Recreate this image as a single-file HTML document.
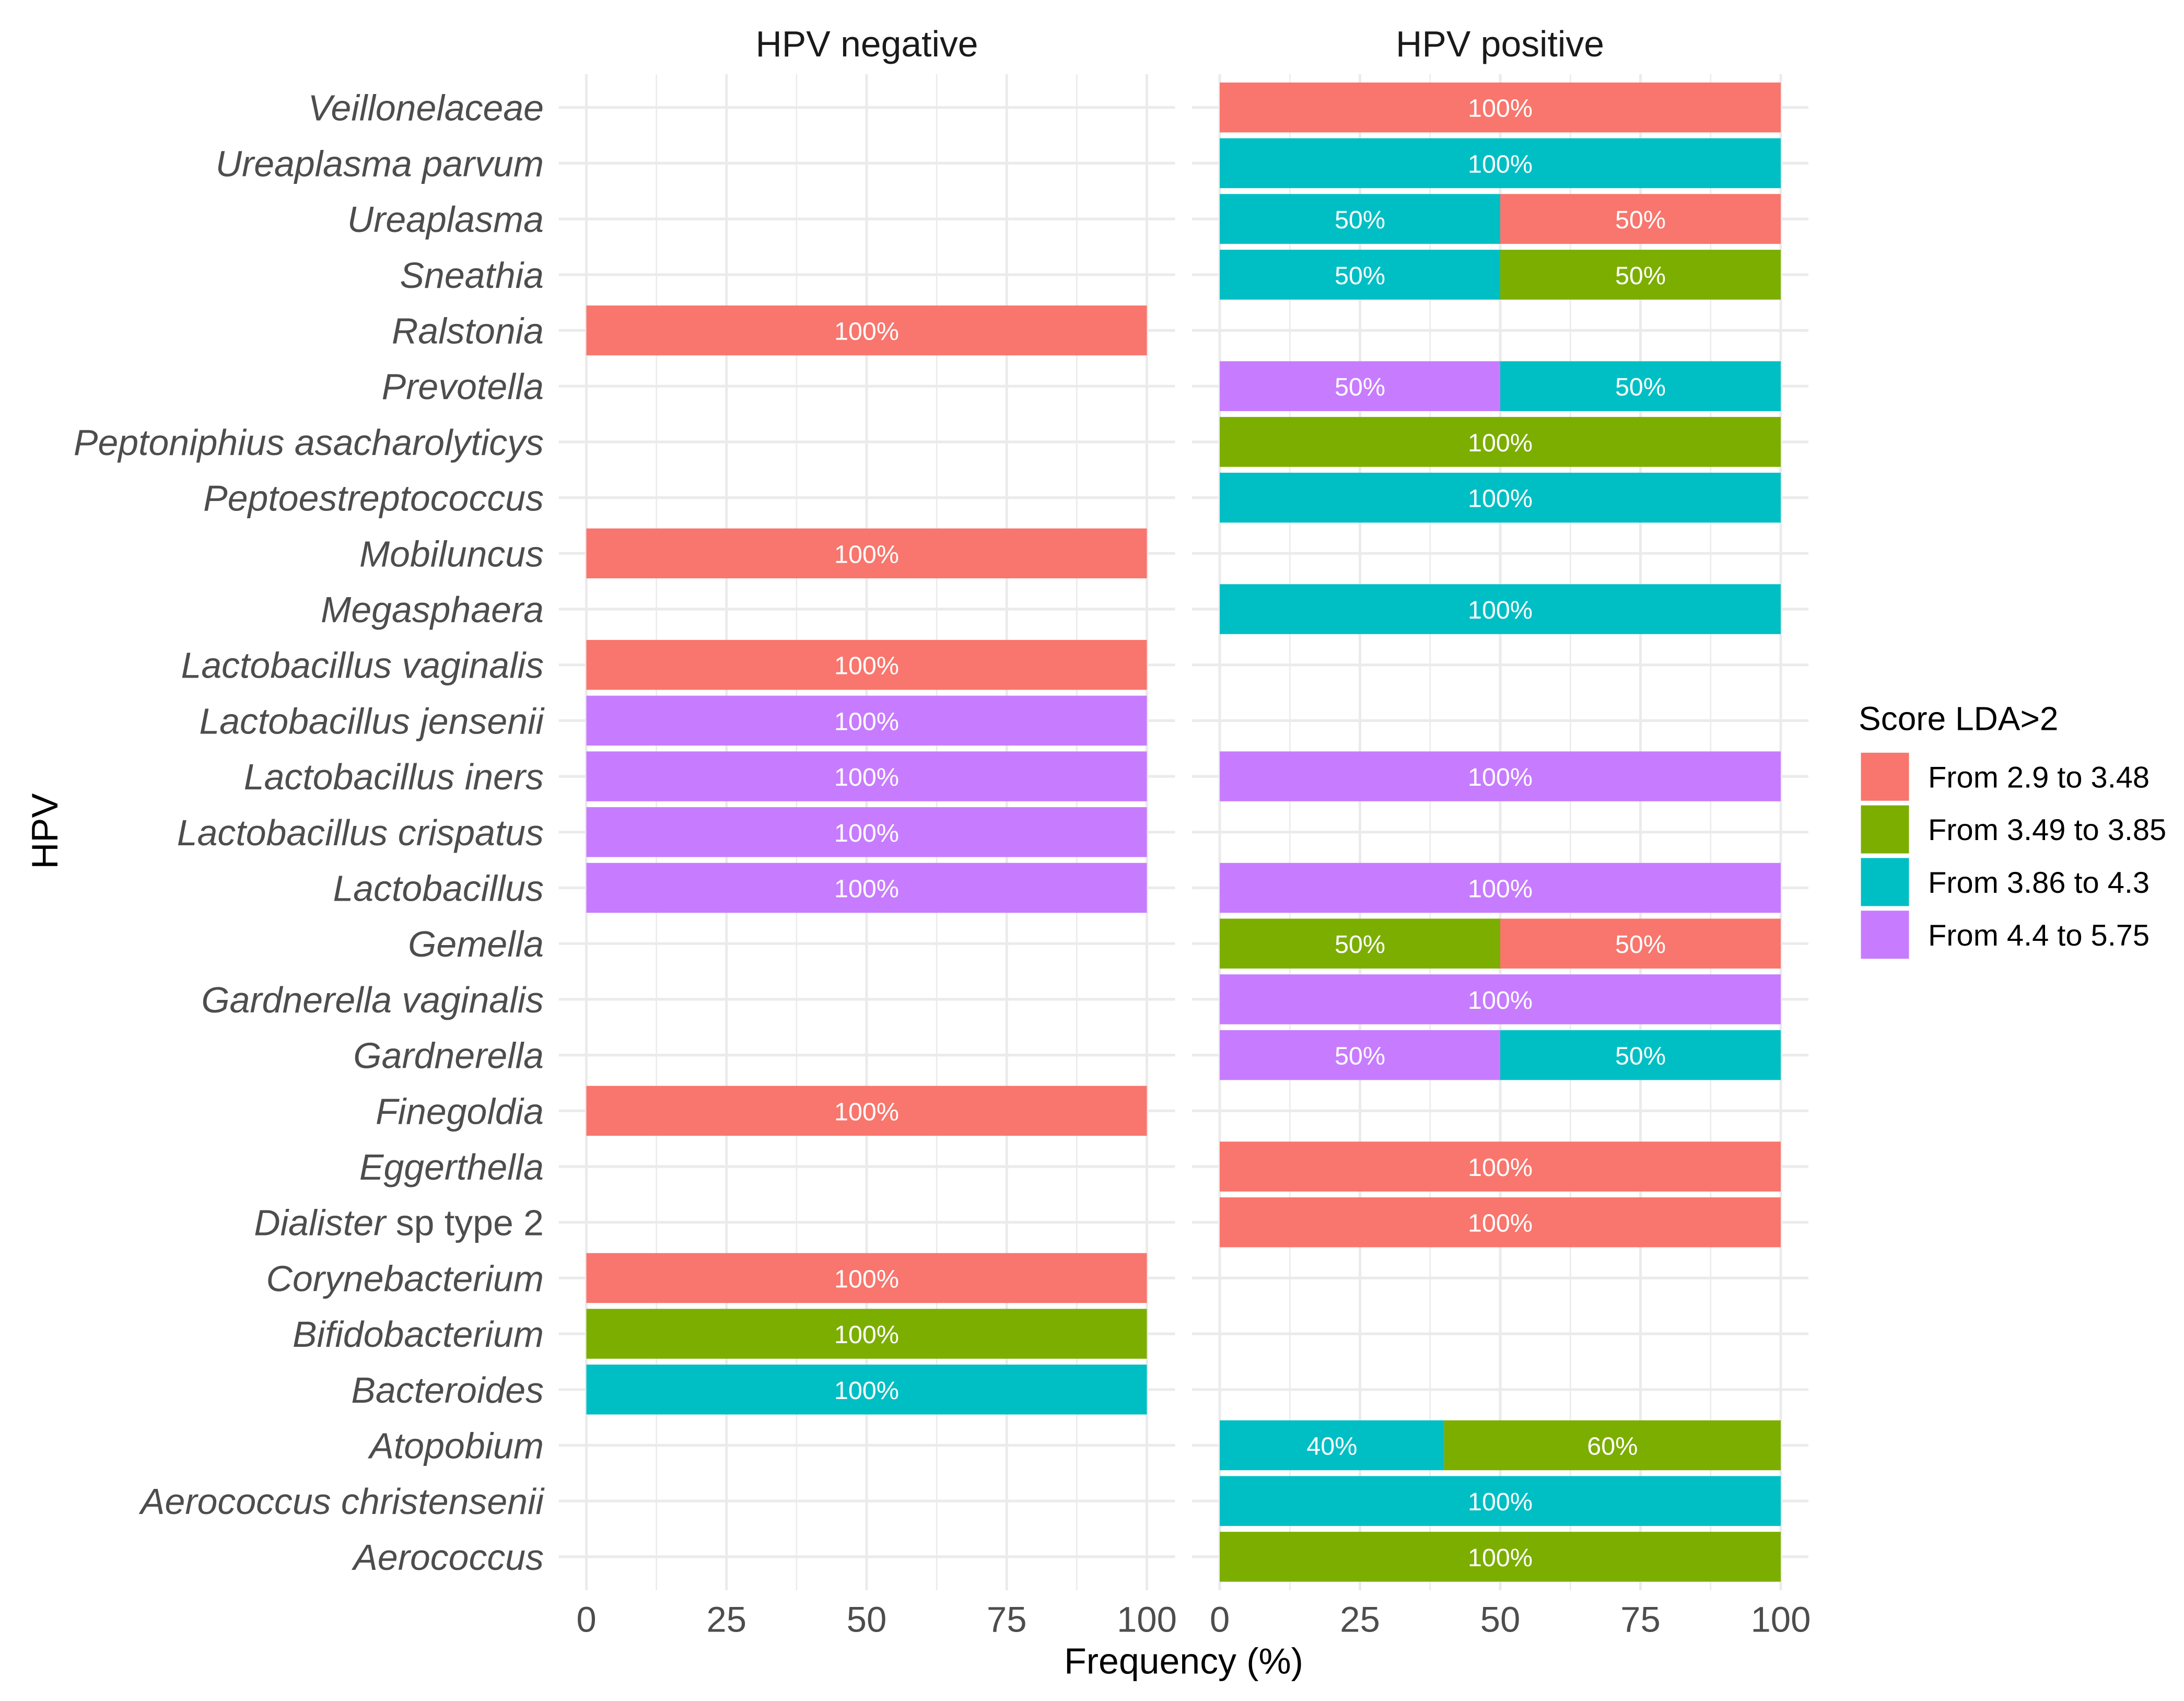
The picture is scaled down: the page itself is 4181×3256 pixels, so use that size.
<!DOCTYPE html>
<html lang="en">
<head>
<meta charset="utf-8">
<title>Frequency of taxa by HPV status</title>
<style>
html,body{margin:0;padding:0;background:#fff;}
svg{display:block;font-family:"Liberation Sans",Arial,sans-serif;}
</style>
</head>
<body>
<svg id="chart" xmlns="http://www.w3.org/2000/svg" width="4181" height="3256" viewBox="0 0 4181 3256">
  <rect x="0" y="0" width="4181" height="3256" fill="#ffffff"/>
  <g id="grid"></g>
  <g id="bars"></g>
  <g id="ylabels"></g>
  <g id="xlabels"></g>
  <text x="1659.5" y="108" font-size="69.7" fill="#1a1a1a" text-anchor="middle">HPV negative</text>
  <text x="2871.5" y="108" font-size="69.7" fill="#1a1a1a" text-anchor="middle">HPV positive</text>
  <text x="2266" y="3203.5" font-size="69.8" fill="#000000" text-anchor="middle">Frequency (%)</text>
  <text transform="translate(110,1591) rotate(-90)" font-size="70.5" fill="#000000" text-anchor="middle">HPV</text>
  <g id="legend">
    <text x="3558" y="1397.5" font-size="64" fill="#000000">Score LDA&gt;2</text>
  </g>
</svg>
<script>
const categories = ["Veillonelaceae","Ureaplasma parvum","Ureaplasma","Sneathia","Ralstonia","Prevotella","Peptoniphius asacharolyticys","Peptoestreptococcus","Mobiluncus","Megasphaera","Lactobacillus vaginalis","Lactobacillus jensenii","Lactobacillus iners","Lactobacillus crispatus","Lactobacillus","Gemella","Gardnerella vaginalis","Gardnerella","Finegoldia","Eggerthella","Dialister sp type 2","Corynebacterium","Bifidobacterium","Bacteroides","Atopobium","Aerococcus christensenii","Aerococcus"];
const xTicks = [0,25,50,75,100];
const xMinorTicks = [12.5,37.5,62.5,87.5];
const legendLabels = ["From 2.9 to 3.48","From 3.49 to 3.85","From 3.86 to 4.3","From 4.4 to 5.75"];
const seriesColors = ["#F8766D","#7CAE00","#00BFC4","#C77CFF"];

// Values listed in the same order as categories (top to bottom)
const negRed    = [0,0,0,0,100,0,0,0,100,0,100,0,0,0,0,0,0,0,100,0,0,100,0,0,0,0,0];
const negGreen  = [0,0,0,0,0,0,0,0,0,0,0,0,0,0,0,0,0,0,0,0,0,0,100,0,0,0,0];
const negTeal   = [0,0,0,0,0,0,0,0,0,0,0,0,0,0,0,0,0,0,0,0,0,0,0,100,0,0,0];
const negPurple = [0,0,0,0,0,0,0,0,0,0,0,100,100,100,100,0,0,0,0,0,0,0,0,0,0,0,0];
const posRed    = [100,0,50,0,0,0,0,0,0,0,0,0,0,0,0,50,0,0,0,100,100,0,0,0,0,0,0];
const posGreen  = [0,0,0,50,0,0,100,0,0,0,0,0,0,0,0,50,0,0,0,0,0,0,0,0,60,0,100];
const posTeal   = [0,100,50,50,0,50,0,100,0,100,0,0,0,0,0,0,0,50,0,0,0,0,0,0,40,100,0];
const posPurple = [0,0,0,0,0,50,0,0,0,0,0,0,100,0,100,0,100,50,0,0,0,0,0,0,0,0,0];

const panelNames = ["hpv-negative","hpv-positive"];
const panelSeries = [[negPurple,negTeal,negGreen,negRed],[posPurple,posTeal,posGreen,posRed]];
const stackColors = [seriesColors[3],seriesColors[2],seriesColors[1],seriesColors[0]];
const stackNames = ["purple","teal","green","red"];

const NS = "http://www.w3.org/2000/svg";
const panelLeft = [1069.6,2282];
const panelRight = [2249.5,3462];
const zeroX = [1122.5,2335];
const fullX = [2195.5,3409];
const PANEL_TOP = 142, PANEL_BOTTOM = 3044;
const firstY = 205.7, stepY = 106.7, barH = 95.5;

function xScale(p, v){ return zeroX[p] + (fullX[p]-zeroX[p]) * v / 100; }
function yScale(i){ return firstY + stepY * i; }
function make(tag, attrs, parent){
  const el = document.createElementNS(NS, tag);
  for (const k in attrs) el.setAttribute(k, attrs[k]);
  parent.appendChild(el);
  return el;
}

const grid = document.getElementById("grid");
const bars = document.getElementById("bars");
const ylabels = document.getElementById("ylabels");
const xlabels = document.getElementById("xlabels");
const legend = document.getElementById("legend");

for (let p = 0; p < 2; p++) {
  xMinorTicks.forEach(function(t){
    const l = make("line",{x1:xScale(p,t),x2:xScale(p,t),y1:PANEL_TOP,y2:PANEL_BOTTOM,stroke:"#ebebeb","stroke-width":2.6},grid);
    
    
  });
  xTicks.forEach(function(t){
    const l = make("line",{x1:xScale(p,t),x2:xScale(p,t),y1:PANEL_TOP,y2:PANEL_BOTTOM,stroke:"#ebebeb","stroke-width":5},grid);
    
    
    const lab = make("text",{x:xScale(p,t),y:3123.5,"font-size":69,fill:"#4d4d4d","text-anchor":"middle"},xlabels);
    lab.textContent = String(t);
    
    
  });
  categories.forEach(function(c,i){
    const l = make("line",{x1:panelLeft[p],x2:panelRight[p],y1:yScale(i),y2:yScale(i),stroke:"#ebebeb","stroke-width":5.2},grid);
    
    
  });
}

categories.forEach(function(c,i){
  const t = make("text",{x:1041,y:yScale(i)+25,"font-size":69.8,fill:"#4d4d4d","text-anchor":"end"},ylabels);
  
  
  const suffix = " sp type 2";
  if (c.endsWith(suffix)) {
    const a = make("tspan",{"font-style":"italic"},t);
    a.textContent = c.slice(0, c.length - suffix.length);
    const b = make("tspan",{},t);
    b.textContent = suffix;
  } else {
    t.setAttribute("font-style","italic");
    t.textContent = c;
  }
});

panelSeries.forEach(function(seriesList,p){
  categories.forEach(function(c,i){
    let acc = 0;
    seriesList.forEach(function(values,s){
      const v = values[i];
      if (!v) return;
      const x0 = xScale(p,acc), x1 = xScale(p,acc+v);
      const r = make("rect",{x:x0,y:yScale(i)-barH/2,width:x1-x0,height:barH,fill:stackColors[s]},bars);
      
      
      r.setAttribute("data-panel", panelNames[p]);
      r.setAttribute("data-series", stackNames[s]);
      const lab = make("text",{x:(x0+x1)/2,y:yScale(i)+18,"font-size":48.5,fill:"#ffffff","text-anchor":"middle"},bars);
      lab.textContent = v + "%";
      
      
      acc += v;
    });
  });
});

legendLabels.forEach(function(label,i){
  const y = 1440.8 + i * 100.8;
  const sw = make("rect",{x:3562.5,y:y,width:92,height:92,fill:seriesColors[i]},legend);
  
  
  const t = make("text",{x:3691,y:y+66.6,"font-size":57.8,fill:"#000000"},legend);
  t.textContent = label;
  
  
});
</script>
</body>
</html>
